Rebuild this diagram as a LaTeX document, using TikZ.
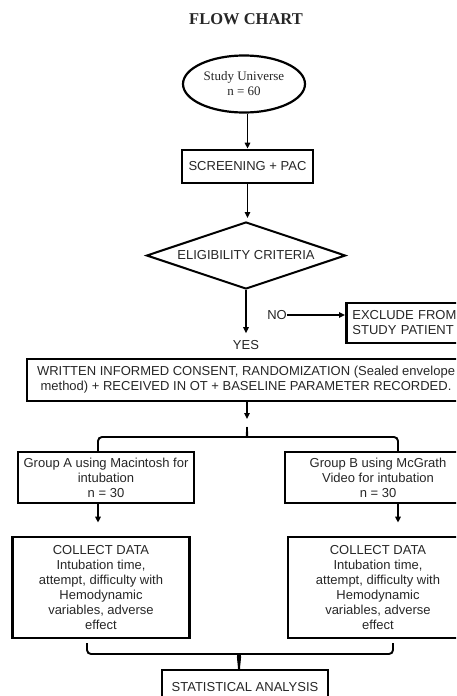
\documentclass[tikz,border=0pt]{standalone}
\usepackage{fontspec}
\setmainfont{Liberation Sans}
\newfontfamily\seriffam{Liberation Serif}
\usetikzlibrary{shapes.geometric,arrows.meta}
\begin{document}
\begin{tikzpicture}[x=1pt,y=-1pt,
  txt/.style={font=\fontsize{13}{15}\selectfont, text=black!85, align=center, inner sep=0pt},
  box/.style={txt, draw, line width=2.8pt, rectangle},
  arr/.style={line width=1.8pt, -{Triangle[length=6pt,width=5.5pt]}},
  lnk/.style={line width=1.9pt, rounded corners=4pt}]
\useasboundingbox (0,0) rectangle (456,696);
\clip (0,0) rectangle (456,696);

\node[font=\seriffam\bfseries\fontsize{16.5}{18}\selectfont, text=black!85] (title) at (246,19) {FLOW CHART};

\node[txt, draw, ellipse, line width=2.2pt, minimum width=122pt, minimum height=57pt,
      font=\seriffam\fontsize{13}{15}\selectfont] (univ) at (244,84) {Study Universe\\n = 60};

\node[box, minimum width=131pt, minimum height=33pt] (screen) at (247.5,166.5) {SCREENING + PAC};

\node[txt, draw, diamond, aspect=3, line width=2pt, minimum width=199pt, minimum height=67pt] (elig) at (246,255.5) {ELIGIBILITY CRITERIA};

\node[txt] (yes) at (246,345) {YES};
\node[txt] (no) at (277,315) {NO};
\node[box, anchor=west, align=left, text width=115pt, inner xsep=6pt, minimum height=40pt] (excl) at (345,323) {EXCLUDE FROM\\STUDY PATIENT};

\node[box, minimum width=438pt, minimum height=42pt] (writ) at (246,380) {WRITTEN INFORMED CONSENT, RANDOMIZATION (Sealed envelope\\method) + RECEIVED IN OT + BASELINE PARAMETER RECORDED.};

\node[box, minimum width=176pt, minimum height=51pt] (ga) at (106,477.5) {Group A using Macintosh for\\intubation\\n = 30};
\node[box, minimum width=186pt, minimum height=51pt] (gb) at (378,477.5) {Group B using McGrath\\Video for intubation\\n = 30};

\node[box, minimum width=177pt, minimum height=101pt] (ca) at (101,587.5) {COLLECT DATA\\Intubation time,\\attempt, difficulty with\\Hemodynamic\\variables, adverse\\effect};
\node[box, minimum width=180pt, minimum height=101pt] (cb) at (378,587.5) {COLLECT DATA\\Intubation time,\\attempt, difficulty with\\Hemodynamic\\variables, adverse\\effect};

\node[box, minimum width=166pt, minimum height=34pt] (stat) at (245,687) {STATISTICAL ANALYSIS};

% coordinates for braces
\coordinate (tb) at (247,427);
\coordinate (bl) at (98,451);
\coordinate (br) at (398,451);
\coordinate (bbl) at (87,643);
\coordinate (bbr) at (393,643);
\coordinate (bt) at (239,670);

% connectors
\draw[arr] (univ.south -| screen.north) -- (screen.north);
\draw[arr, shorten >=3pt] (screen.south) -- (screen.south |- elig.north);
\draw[arr, shorten >=7pt] (elig.south) -- (elig.south |- yes.north);
\draw[arr] (no.east) -- (no.east -| excl.west);
\draw[arr, shorten >=8pt] (writ.south -| tb) -- (tb);

% top brace
\draw[lnk] (bl) |- (243,437) to[out=0,in=-90] (tb);
\draw[lnk] (br) |- (251,437) to[out=180,in=-90] (tb);

\draw[arr, shorten >=13pt] (ga.south -| bl) -- (ca.north -| bl);
\draw[arr, shorten >=13pt] (gb.south -| br) -- (cb.north -| br);

% bottom brace
\draw[lnk] (bbl) |- (235,654) to[out=0,in=90] (bt);
\draw[lnk] (bbr) |- (243,654) to[out=180,in=90] (bt);
\end{tikzpicture}
\end{document}
